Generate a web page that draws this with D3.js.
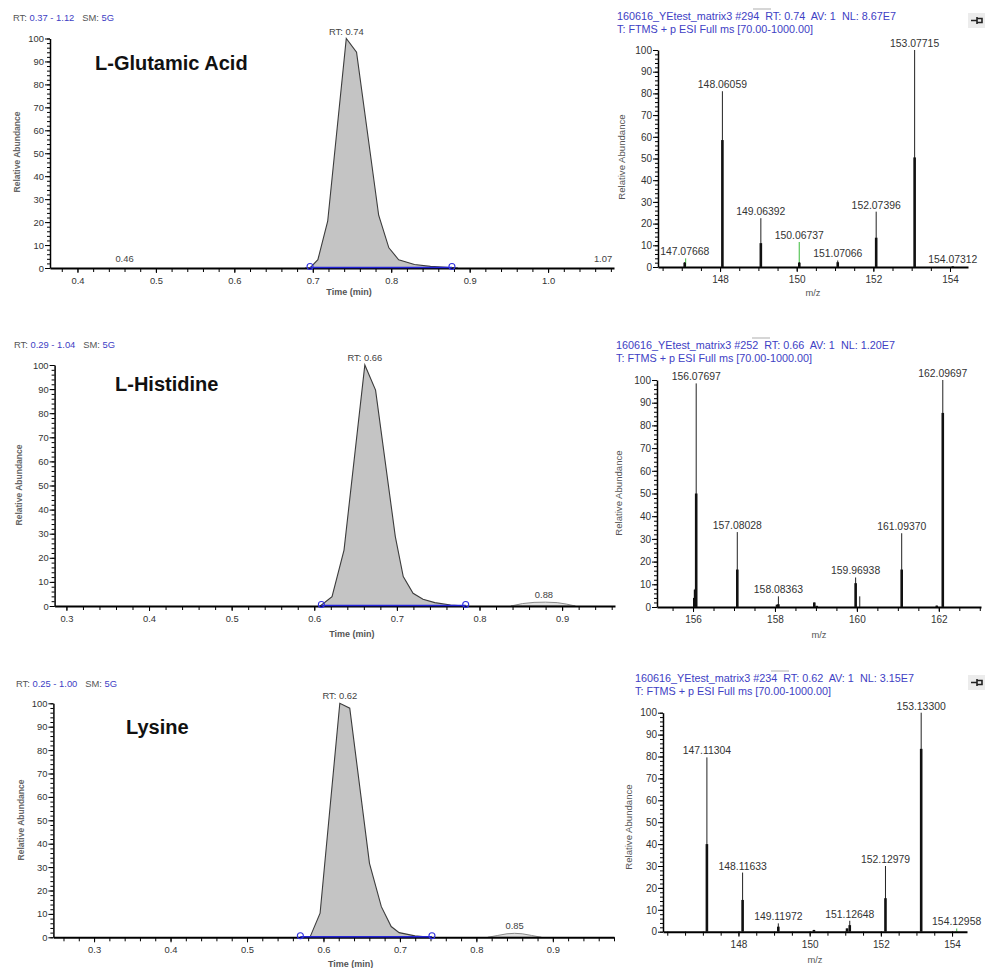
<!DOCTYPE html>
<html>
<head>
<meta charset="utf-8">
<script src="https://cdn.jsdelivr.net/npm/d3@7"></script>
<style>
body { margin: 0; background: #fff; }
text { font-family: "Liberation Sans", Arial, sans-serif; white-space: pre; }
</style>
</head>
<body>
<svg id="chart" width="986" height="968"></svg>
<script>
// chromatogram traces (time in min, relative abundance)
var glu_rt = [0.690, 0.6965, 0.7065, 0.719, 0.7427, 0.7558, 0.784, 0.797, 0.8095, 0.8296, 0.850, 0.870, 0.885];
var glu_ab = [0, 0, 3.6, 20.4, 100, 94, 23, 8.8, 3.6, 1.5, 0.7, 0.3, 0];

var his_rt = [0.6072, 0.6215, 0.636, 0.6612, 0.6742, 0.6981, 0.7077, 0.7196, 0.7316, 0.7459, 0.765, 0.7833];
var his_ab = [0, 3.9, 23.2, 100, 89.6, 28.8, 12.2, 5.3, 2.8, 1.4, 0.4, 0];
var his_minor_rt = [0.838, 0.852, 0.866, 0.880, 0.894, 0.905, 0.916];
var his_minor_ab = [0, 1.0, 1.5, 1.6, 1.4, 0.8, 0];

var lys_rt = [0.5698, 0.5827, 0.5956, 0.6214, 0.6344, 0.6602, 0.6757, 0.6886, 0.699, 0.7196, 0.7403];
var lys_ab = [0, 0.3, 10.3, 100, 97.9, 31.6, 13.1, 4.6, 2.0, 0.6, 0];
var lys_minor_rt = [0.815, 0.828, 0.840, 0.850, 0.860, 0.872, 0.885];
var lys_minor_ab = [0, 0.8, 1.5, 1.7, 1.5, 0.8, 0];

// mass spectra: m/z, profile height, centroid height, labelled?
var glu_ms_mz = [147.07668, 148.06059, 149.06392, 150.06737, 151.07066, 152.07396, 153.07715, 154.07312];
var glu_ms_int = [2.3, 81, 22.5, 2.3, 3, 25.5, 100, 0.4];
var glu_ms_core = [2, 58.5, 11, 2, 2.2, 13.5, 50.5, 0.3];
var glu_ms_label = [1, 1, 1, 1, 1, 1, 1, 1];
var glu_green_mz = [147.10, 150.067];
var glu_green_int = [4, 11.5];

var his_ms_mz = [156.03, 156.05, 156.07697, 157.08028, 158.05, 158.08363, 158.96, 159.02, 159.96938, 160.07, 161.0937, 161.95, 162.09697];
var his_ms_int = [4, 8, 98.5, 33, 1, 4.7, 2, 0.5, 13, 4.7, 32.5, 0.6, 100];
var his_ms_core = [4, 7.6, 50, 16.5, 1, 1.2, 2, 0.5, 10.5, 0, 16.5, 0.6, 85.5];
var his_ms_label = [0, 0, 1, 1, 0, 1, 0, 0, 1, 0, 1, 0, 1];
var his_green_mz = [];
var his_green_int = [];

var lys_ms_mz = [147.11304, 148.11633, 149.11972, 150.12, 151.05, 151.12648, 152.12979, 153.133, 154.12958];
var lys_ms_int = [79.6, 27, 3.8, 0.8, 1.5, 5, 30, 100, 0.3];
var lys_ms_core = [40, 14.5, 2.3, 0.8, 1.5, 3, 15.3, 83.5, 0.2];
var lys_ms_label = [1, 1, 1, 0, 0, 1, 1, 1, 1];
var lys_green_mz = [154.13];
var lys_green_int = [1.5];

var abundTicks = d3.range(0, 101, 10);

var BLUE = '#4040c4';
var svg = d3.select('#chart');

var chroms = [
    {rt: glu_rt, ab: glu_ab, mrt: null, mab: null, dom: [0.365, 1.084], x0: 50, x1: 614, top: 38.5, bot: 268,
     range: '0.37 - 1.12', hx: 13, hy: 18, name: 'L-Glutamic Acid', nx: 95, ny: 70,
     apex: 0.7427, rtText: 'RT: 0.74', base: [0.6965, 0.8774],
     notes: [[0.46, '0.46'], [1.07, '1.07']], ticks: [0.4, 0.5, 0.6, 0.7, 0.8, 0.9, 1.0], ty: 295, ra: [20, 152]},
    {rt: his_rt, ab: his_ab, mrt: his_minor_rt, mab: his_minor_ab, dom: [0.2857, 0.964], x0: 54.6, x1: 615, top: 365, bot: 606,
     range: '0.29 - 1.04', hx: 14, hy: 345, name: 'L-Histidine', nx: 115, ny: 391,
     apex: 0.6612, rtText: 'RT: 0.66', base: [0.6086, 0.7833],
     notes: [[0.878, '0.88']], ticks: [0.3, 0.4, 0.5, 0.6, 0.7, 0.8, 0.9], ty: 637, ra: [22, 485]},
    {rt: lys_rt, ab: lys_ab, mrt: lys_minor_rt, mab: lys_minor_ab, dom: [0.2468, 0.980], x0: 53.4, x1: 614, top: 703.3, bot: 937.3,
     range: '0.25 - 1.00', hx: 16, hy: 684, name: 'Lysine', nx: 126, ny: 734,
     apex: 0.6214, rtText: 'RT: 0.62', base: [0.5698, 0.7419],
     notes: [[0.85, '0.85']], ticks: [0.3, 0.4, 0.5, 0.6, 0.7, 0.8, 0.9], ty: 967, ra: [24, 820]}
];

var spectra = [
    {mz: glu_ms_mz, h: glu_ms_int, c: glu_ms_core, lab: glu_ms_label, gmz: glu_green_mz, gh: glu_green_int,
     dom: [146.38, 154.47], x0: 658, x1: 968, top: 50, bot: 267, hx: 617, hy: 17,
     head: '160616_YEtest_matrix3 #294  RT: 0.74  AV: 1  NL: 8.67E7', ticks: [148, 150, 152, 154], ty: 296, ra: [625, 157], pin: true},
    {mz: his_ms_mz, h: his_ms_int, c: his_ms_core, lab: his_ms_label, gmz: his_green_mz, gh: his_green_int,
     dom: [155.12, 163.03], x0: 657, x1: 981, top: 380, bot: 607, hx: 616, hy: 346,
     head: '160616_YEtest_matrix3 #252  RT: 0.66  AV: 1  NL: 1.20E7', ticks: [156, 158, 160, 162], ty: 638, ra: [622, 493], pin: false},
    {mz: lys_ms_mz, h: lys_ms_int, c: lys_ms_core, lab: lys_ms_label, gmz: lys_green_mz, gh: lys_green_int,
     dom: [145.88, 154.42], x0: 663, x1: 967, top: 712.7, bot: 931.7, hx: 635, hy: 679,
     head: '160616_YEtest_matrix3 #234  RT: 0.62  AV: 1  NL: 3.15E7', ticks: [148, 150, 152, 154], ty: 963, ra: [632, 827], pin: true}
];

chroms.forEach(drawChrom);
spectra.forEach(drawMS);

function yAxes(g, y, x0, fs) {
    g.append('g')
        .attr('transform', 'translate(' + x0 + ',0)')
        .call(d3.axisLeft(y).tickValues(d3.range(0, 101, 2)).tickSize(3).tickSizeOuter(0).tickFormat(''))
        .call(function (a) { a.select('.domain').attr('stroke-width', 1.5); });
    g.append('g')
        .attr('transform', 'translate(' + x0 + ',0)')
        .call(d3.axisLeft(y).tickValues(abundTicks).tickSize(5).tickPadding(1).tickFormat(d3.format('d')))
        .call(function (a) {
            a.select('.domain').remove();
            a.selectAll('text').attr('font-size', fs).attr('fill', '#333');
        });
}

function xAxes(g, x, y0, minor, ticks, fmt, fs) {
    g.append('g')
        .attr('transform', 'translate(0,' + y0 + ')')
        .call(d3.axisBottom(x).tickValues(minor).tickSize(4).tickSizeOuter(0).tickFormat(''))
        .call(function (a) { a.select('.domain').attr('stroke-width', 2); });
    g.append('g')
        .attr('transform', 'translate(0,' + y0 + ')')
        .call(d3.axisBottom(x).tickValues(ticks).tickSize(5).tickPadding(4).tickFormat(fmt))
        .call(function (a) {
            a.select('.domain').remove();
            a.selectAll('text').attr('font-size', fs).attr('fill', '#333');
        });
}

function label(g, x, y, s, size, rot) {
    var t = g.append('text')
        .attr('x', x).attr('y', y)
        .attr('text-anchor', 'middle')
        .attr('font-size', size || 9)
        .attr('fill', '#444')
        .text(s);
    if (rot) t.attr('transform', 'rotate(-90,' + x + ',' + y + ')');
    return t;
}

function drawChrom(p) {
    var g = svg.append('g');
    var x = d3.scaleLinear().domain(p.dom).range([p.x0, p.x1]);
    var y = d3.scaleLinear().domain([0, 100]).range([p.bot, p.top]);

    var head = g.append('text').attr('x', p.hx).attr('y', p.hy + 3).attr('font-size', 9.4).attr('fill', '#555');
    head.append('tspan').text('RT: ');
    head.append('tspan').attr('fill', BLUE).text(p.range);
    head.append('tspan').text('   SM: ');
    head.append('tspan').attr('fill', BLUE).text('5G');

    var area = d3.area()
        .x(function (d) { return x(d[0]); })
        .y0(y(0))
        .y1(function (d) { return y(d[1]); });

    if (p.mrt) {
        g.append('path')
            .datum(d3.zip(p.mrt, p.mab))
            .attr('d', area)
            .attr('fill', '#e2e2e2')
            .attr('stroke', '#8a8a8a')
            .attr('stroke-width', 1);
    }

    g.append('path')
        .datum(d3.zip(p.rt, p.ab))
        .attr('d', area)
        .attr('fill', '#c4c4c4')
        .attr('stroke', '#3c3c3c')
        .attr('stroke-width', 1.1);

    var minor = d3.range(Math.ceil(p.dom[0] * 50), Math.floor(p.dom[1] * 50) + 1).map(function (i) { return i / 50; });
    xAxes(g, x, p.bot, minor, p.ticks, d3.format('.1f'), 9.4);
    yAxes(g, y, p.x0, 9.4);

    // integration baseline
    g.append('line')
        .attr('x1', x(p.base[0])).attr('x2', x(p.base[1]))
        .attr('y1', y(0) - 0.5).attr('y2', y(0) - 0.5)
        .attr('stroke', '#2424d8').attr('stroke-width', 1.6);
    g.selectAll('circle.end')
        .data(p.base)
        .enter()
        .append('circle')
        .attr('cx', function (d) { return x(d); })
        .attr('cy', y(0) - 1.5)
        .attr('r', 3)
        .attr('fill', 'none')
        .attr('stroke', '#3030e0')
        .attr('stroke-width', 1.1);

    label(g, x(p.apex), y(100) - 4, p.rtText, 9.4);
    p.notes.forEach(function (n) {
        label(g, x(n[0]), y(0) - (p.mrt ? 8 : 6), n[1], 9.4);
    });

    label(g, (p.x0 + p.x1) / 2 + 17, p.ty, 'Time (min)', 9).attr('font-weight', 'bold').attr('fill', '#555');
    label(g, p.ra[0], p.ra[1], 'Relative Abundance', 8.5, true).attr('font-weight', 'bold').attr('fill', '#666');

    g.append('text')
        .attr('x', p.nx).attr('y', p.ny)
        .attr('font-family', 'Lato, "Open Sans", sans-serif')
        .attr('font-weight', 'bold')
        .attr('font-size', 20)
        .attr('fill', '#111')
        .text(p.name);
}

function drawMS(p) {
    var g = svg.append('g');
    var x = d3.scaleLinear().domain(p.dom).range([p.x0, p.x1]);
    var y = d3.scaleLinear().domain([0, 100]).range([p.bot, p.top]);

    g.append('text').attr('x', p.hx).attr('y', p.hy + 3).attr('font-size', 10.8).attr('fill', BLUE).text(p.head);
    g.append('text').attr('x', p.hx).attr('y', p.hy + 16).attr('font-size', 10.8).attr('fill', BLUE)
        .text('T: FTMS + p ESI Full ms [70.00-1000.00]');
    g.append('line')
        .attr('x1', p.hx + 136).attr('x2', p.hx + 154)
        .attr('y1', p.hy - 8).attr('y2', p.hy - 8)
        .attr('stroke', '#bbb').attr('stroke-width', 1.2);

    if (p.pin) {
        var pin = g.append('g').attr('transform', 'translate(968,' + (p.hy - 4) + ')');
        pin.append('rect').attr('width', 17).attr('height', 15).attr('fill', '#ececec');
        pin.append('path')
            .attr('d', 'M3,7.5H9M9,4V11M9,5.5H14V9.5H9')
            .attr('stroke', '#222').attr('stroke-width', 1.6).attr('fill', 'none');
    }

    var minor = d3.range(Math.ceil(p.dom[0] * 2), Math.floor(p.dom[1] * 2) + 1).map(function (i) { return i / 2; });
    xAxes(g, x, p.bot, minor, p.ticks, d3.format('d'), 10);
    yAxes(g, y, p.x0, 10);

    g.selectAll('line.green')
        .data(d3.zip(p.gmz, p.gh))
        .enter()
        .append('line')
        .attr('x1', function (d) { return x(d[0]); })
        .attr('x2', function (d) { return x(d[0]); })
        .attr('y1', y(0)).attr('y2', function (d) { return y(d[1]); })
        .attr('stroke', '#5cc65c').attr('stroke-width', 1.2);

    var peaks = d3.zip(p.mz, p.h, p.c, p.lab);
    g.selectAll('line.thin')
        .data(peaks)
        .enter()
        .append('line')
        .attr('x1', function (d) { return x(d[0]); })
        .attr('x2', function (d) { return x(d[0]); })
        .attr('y1', y(0)).attr('y2', function (d) { return y(d[1]); })
        .attr('stroke', '#222').attr('stroke-width', 1);
    g.selectAll('line.core')
        .data(peaks.filter(function (d) { return d[2] > 0; }))
        .enter()
        .append('line')
        .attr('x1', function (d) { return x(d[0]); })
        .attr('x2', function (d) { return x(d[0]); })
        .attr('y1', y(0)).attr('y2', function (d) { return y(d[2]); })
        .attr('stroke', '#111').attr('stroke-width', 2.6);

    peaks.filter(function (d) { return d[3]; }).forEach(function (d) {
        var top = d[1];
        p.gmz.forEach(function (m, i) {
            if (Math.abs(m - d[0]) < 0.06) top = Math.max(top, p.gh[i]);
        });
        label(g, x(d[0]), y(top) - 3, d[0].toFixed(5), 10.4).attr('fill', '#333');
    });

    label(g, (p.x0 + p.x1) / 2, p.ty, 'm/z', 9.4).attr('fill', '#555');
    label(g, p.ra[0], p.ra[1], 'Relative Abundance', 9.6, true).attr('fill', '#555');
}
</script>
</body>
</html>
